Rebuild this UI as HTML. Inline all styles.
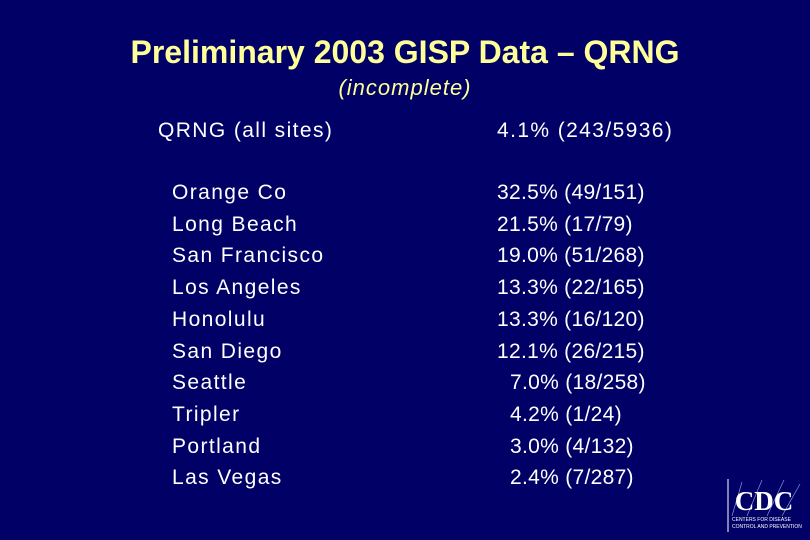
<!DOCTYPE html>
<html><head><meta charset="utf-8"><style>
body{margin:0;}
#slide{position:relative;width:810px;height:540px;background:#000066;overflow:hidden;font-family:"Liberation Sans",Arial,sans-serif;color:#fff;}
.t{position:absolute;white-space:pre;font-size:21px;line-height:24px;letter-spacing:1.4px;}
.v{letter-spacing:0.3px;}
#title{position:absolute;left:0;width:810px;text-align:center;top:34px;font-size:32px;font-weight:bold;color:#ffff99;}
#sub{position:absolute;left:0;width:810px;text-align:center;top:75px;font-size:22px;font-style:italic;letter-spacing:1px;color:#ffff99;}
</style></head><body>
<div id="slide">
<div id="title">Preliminary 2003 GISP Data – QRNG</div>
<div id="sub">(incomplete)</div>
<div class="t" style="left:158px;top:119px">QRNG (all sites)</div>
<div class="t" style="left:497px;top:119px">4.1% (243/5936)</div>
<svg style="position:absolute;left:722px;top:476px" width="82" height="60">
<rect x="4" y="2" width="76" height="54" fill="#000066"/>
<line x1="6" y1="3" x2="6" y2="56" stroke="#fff" stroke-width="1"/>
<g stroke="#8899dd" stroke-width="0.7">
<line x1="10" y1="40" x2="20" y2="6"/><line x1="25" y1="40" x2="40" y2="4"/><line x1="45" y1="40" x2="62" y2="4"/><line x1="60" y1="40" x2="78" y2="8"/>
</g>
<text x="42" y="34" text-anchor="middle" font-family="Liberation Serif,serif" font-weight="bold" font-size="27" fill="#fff">CDC</text>
<text x="10" y="45" font-size="5" fill="#fff" font-family="Liberation Sans,sans-serif">CENTERS FOR DISEASE</text>
<text x="10" y="52" font-size="5" fill="#fff" font-family="Liberation Sans,sans-serif">CONTROL AND PREVENTION</text>
</svg>
</div>
<script>
const sites=["Orange Co","Long Beach","San Francisco","Los Angeles","Honolulu","San Diego","Seattle","Tripler","Portland","Las Vegas"];
const values=["32.5% (49/151)","21.5% (17/79)","19.0% (51/268)","13.3% (22/165)","13.3% (16/120)","12.1% (26/215)","7.0% (18/258)","4.2% (1/24)","3.0% (4/132)","2.4% (7/287)"];
const slide=document.getElementById('slide');
sites.forEach((s,i)=>{
  const top=181+i*31.7;
  const a=document.createElement('div');a.className='t';a.style.left='172px';a.style.top=top+'px';a.textContent=s;
  
  
  slide.appendChild(a);
  const b=document.createElement('div');b.className='t v';
  b.style.left=(values[i].indexOf('.')===1?510:497)+'px';
  b.style.top=top+'px';b.textContent=values[i];
  
  
  slide.appendChild(b);
});
</script>
</body></html>
